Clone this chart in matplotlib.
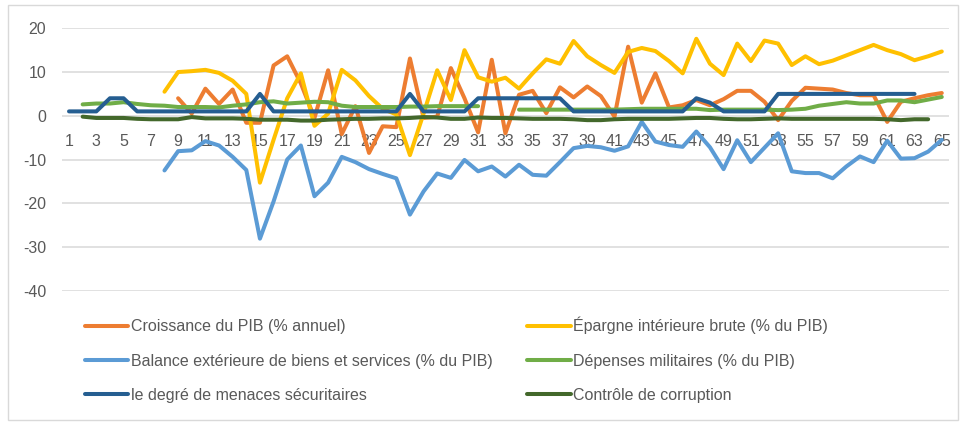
import numpy as np
import matplotlib
matplotlib.use("Agg")
import matplotlib.pyplot as plt
from matplotlib.patches import Rectangle

nan = np.nan
categories = list(range(1, 66))

croissance = [nan]*8 + [4.0, 0.5, 6.2, 2.7, 6.0, -1.6, -1.6, 11.5, 13.6, 7.4, -0.5, 10.4, -4.2, 2.2, -8.5,
              -2.4, -2.6, 13.1, -0.5, -0.2, 10.9, 4.0, -3.8, 12.8, -4.0, 4.8, 5.7, 0.6, 6.5, 4.2, 6.7,
              4.5, -0.2, 15.8, 3.0, 9.7, 1.9, 2.4, 3.6, 2.4, 3.8, 5.7, 5.7, 3.2, -1.0, 3.4, 6.4, 6.2,
              6.0, 5.2, 4.7, 4.7, -1.4, 3.2, 4.0, 4.7, 5.2]
epargne = [nan]*7 + [5.5, 10.0, 10.2, 10.5, 9.8, 8.0, 5.0, -15.3, -5.5, 4.0, 9.7, -2.3, 0.5, 10.5, 8.1,
           4.5, 1.6, 0.3, -9.0, 0.5, 10.4, 3.6, 15.0, 8.8, 7.8, 8.7, 6.2, 9.7, 12.9, 11.9, 17.1,
           13.6, 11.6, 9.8, 14.6, 15.5, 14.8, 12.5, 9.7, 17.6, 11.9, 9.3, 16.5, 12.5, 17.2, 16.5,
           11.6, 13.6, 11.8, 12.6, 13.8, 15.0, 16.2, 15.0, 14.1, 12.7, 13.6, 14.7]
balance = [nan]*7 + [-12.5, -8.1, -7.9, -5.8, -6.8, -9.4, -12.4, -28.1, -19.6, -10.0, -6.8, -18.4,
           -15.3, -9.4, -10.6, -12.2, -13.3, -14.3, -22.6, -17.3, -13.2, -14.2, -10.1, -12.7, -11.6,
           -13.9, -11.2, -13.5, -13.7, -10.6, -7.4, -6.9, -7.2, -8.0, -7.0, -1.4, -5.9, -6.7, -7.1,
           -3.6, -7.2, -12.2, -5.6, -10.6, -7.3, -4.0, -12.7, -13.1, -13.1, -14.3, -11.6, -9.3,
           -10.6, -5.7, -9.8, -9.7, -8.2, -5.5]
depenses = [nan] + [2.6, 2.8, 2.8, 3.1, 2.7, 2.4, 2.3, 2.0, 2.0, 2.0, 1.9, 2.3, 2.6, 3.1, 3.3, 2.8, 3.0,
                    3.2, 3.1, 2.3, 2.0, 2.0, 2.0, 2.0, 2.1, 2.1, 2.2, 2.2, 2.2, 2.2, nan, nan, 1.4, 1.4,
                    1.4, 1.4, 1.4, 1.4, 1.4, 1.4, 1.5, 1.6, 1.6, 1.6, 1.6, 1.6, 1.3, 1.4, 1.4, 1.4, 1.4,
                    1.3, 1.4, 1.6, 2.3, 2.7, 3.1, 2.8, 2.8, 3.5, 3.5, 3.1, 3.7, 4.3]
menaces = [1, 1, 1, 4, 4, 1, 1, 1, 1, 1, 1, 1, 1, 1, 5, 1, 1, 1, 1, 1, 1, 1, 1, 1, 1, 5, 1, 1, 1, 1,
           4, 4, 4, 4, 4, 4, 4, 1, 1, 1, 1, 1, 1, 1, 1, 1, 4, 3, 1, 1, 1, 1, 5, 5, 5, 5, 5, 5, 5, 5,
           5, 5, 5, nan, nan]
controle = [nan] + [-0.2, -0.5, -0.5, -0.5, -0.7, -0.8, -0.8, -0.8, -0.3, -0.6, -0.6, -0.6, -0.7, -0.9,
                    -0.9, -0.9, -1.1, -1.1, -0.9, -0.8, -0.7, -0.7, -0.6, -0.6, -0.5, -0.3, -0.4, -0.7,
                    -0.7, -0.4, -0.5, -0.5, -0.6, -0.7, -0.7, -0.7, -0.8, -1.0, -1.0, -0.8, -0.7, -0.7,
                    -0.7, -0.7, -0.6, -0.5, -0.5, -0.7, -0.8, -0.8, -0.7, -0.6, -0.7, -0.7, -0.7, -0.7,
                    -0.7, -0.7, -0.7, -0.8, -1.0, -0.8, -0.8] + [nan]

series_names = ["Croissance du PIB (% annuel)",
                "Épargne intérieure brute (% du PIB)",
                "Balance extérieure de biens et services (% du PIB)",
                "Dépenses militaires (% du PIB)",
                "le degré de menaces sécuritaires",
                "Contrôle de corruption"]
series_values = [croissance, epargne, balance, depenses, menaces, controle]
series_colors = ["#ED7D31", "#FFC000", "#5B9BD5", "#70AD47", "#255E91", "#43682B"]

y_ticks = [-40, -30, -20, -10, 0, 10, 20]
x_tick_labels = [str(c) for c in categories if c % 2 == 1]

plt.rcParams['font.family'] = ['Liberation Sans', 'DejaVu Sans']

W, H = 969, 422
fig = plt.figure(figsize=(W / 100, H / 100), dpi=100)
ax = fig.add_axes([62.2 / W, 1 - 290.7 / H, (948.6 - 62.2) / W, (290.7 - 28.3) / H])

lw = 2.9
handles = []
for name, vals, col in zip(series_names, series_values, series_colors):
    h, = ax.plot(categories, vals, color=col, lw=lw, label=name,
                 solid_capstyle='round', solid_joinstyle='round')
    handles.append(h)

ax.set_xlim(0.5, 65.5)
ax.set_ylim(-40, 20)
ax.set_yticks(y_ticks)
ax.set_yticklabels([str(v) for v in y_ticks])
ax.set_xticks([c for c in categories if c % 2 == 1])
ax.set_xticklabels(x_tick_labels)
ax.grid(axis='y', color='#D9D9D9', lw=1.1)
ax.set_axisbelow(True)
for s in ax.spines.values():
    s.set_visible(False)
ax.spines['bottom'].set_position(('data', 0))
ax.tick_params(axis='x', length=0, pad=13, labelsize=11.5, labelcolor='#595959')
ax.tick_params(axis='y', length=0, pad=11.5, labelsize=11.5, labelcolor='#595959')

fs = 11.5
fs_px = fs * 100 / 72
order = [0, 2, 4, 1, 3, 5]
leg_handles = [handles[i] for i in order]
leg_labels = [series_names[i] for i in order]


def make_legend(colspacing):
    return fig.legend(leg_handles, leg_labels, ncol=2, loc='upper left',
                      bbox_to_anchor=(85 / W, 1 - 317 / H), frameon=False,
                      handlelength=2.7, handletextpad=0.15, labelspacing=1.2,
                      columnspacing=colspacing, fontsize=fs, borderaxespad=0,
                      borderpad=0, labelcolor='#595959')


cs = 2.0
leg = make_legend(cs)
fig.canvas.draw()
renderer = fig.canvas.get_renderer()
x0 = leg.get_texts()[3].get_window_extent(renderer).x0
leg.remove()
cs = cs + (573 - x0) / fs_px
leg = make_legend(cs)

fig.patches.append(Rectangle((8 / W, 2 / H), (958 - 8) / W, (420 - 5) / H,
                             transform=fig.transFigure, fill=False, ec='#D9D9D9', lw=1.0))

fig.savefig("out.png", dpi=100)
